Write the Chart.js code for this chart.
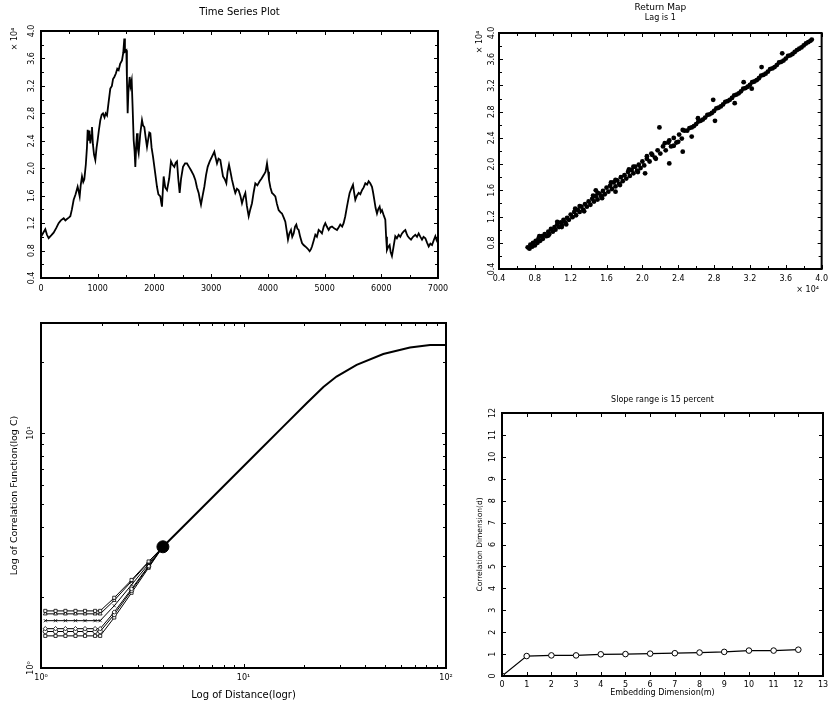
<!DOCTYPE html>
<html>
<head>
<meta charset="utf-8">
<script src="https://cdn.jsdelivr.net/npm/chart.js@4.4.1/dist/chart.umd.min.js"></script>
<style>
  html, body { margin: 0; padding: 0; background: #fff; }
  #page { position: relative; width: 833px; height: 704px; overflow: hidden; background: #fff; }
  #page canvas { position: absolute; left: 0; top: 0; }
</style>
</head>
<body>
<div id="page">
  <canvas id="tsChart" width="833" height="704"></canvas>
  <canvas id="lagChart" width="833" height="704"></canvas>
  <canvas id="corrChart" width="833" height="704"></canvas>
  <canvas id="dimChart" width="833" height="704"></canvas>
</div>
<script>
// ---------- Time series (values in units of 10^4) ----------
const tsTime = [0,40,76,105,135,180,223,270,311,350,400,430,458,490,517,545,576,610,646,665,682,700,723,745,764,790,810,823,840,855,870,885,899,915,935,958,980,999,1020,1046,1070,1093,1120,1140,1164,1190,1222,1250,1270,1293,1320,1345,1369,1395,1428,1450,1469,1480,1505,1515,1528,1540,1563,1580,1599,1615,1634,1650,1663,1680,1693,1705,1722,1750,1781,1800,1822,1845,1869,1890,1910,1928,1950,1975,2010,2045,2070,2104,2120,2133,2150,2163,2190,2222,2260,2292,2320,2351,2375,2398,2420,2445,2470,2504,2540,2574,2610,2645,2690,2721,2750,2780,2800,2821,2850,2880,2910,2939,2975,3015,3056,3080,3103,3130,3162,3185,3209,3240,3268,3290,3315,3340,3368,3400,3426,3455,3485,3515,3544,3575,3603,3630,3662,3690,3720,3750,3779,3815,3855,3890,3926,3960,3985,4005,4020,4045,4073,4100,4132,4160,4190,4220,4249,4280,4308,4330,4355,4380,4408,4430,4455,4480,4502,4520,4543,4570,4602,4630,4660,4700,4737,4760,4778,4810,4837,4865,4896,4925,4954,4985,5013,5040,5072,5100,5131,5175,5219,5250,5277,5310,5336,5365,5395,5420,5442,5470,5501,5520,5542,5570,5601,5630,5660,5690,5719,5750,5777,5805,5836,5855,5877,5900,5924,5945,5971,5990,6012,6040,6071,6085,6100,6120,6147,6165,6188,6215,6247,6275,6306,6335,6365,6395,6424,6445,6465,6495,6524,6560,6600,6630,6659,6690,6718,6745,6777,6805,6836,6865,6895,6925,6953,6975,7000];
const tsValue = [1.00,1.06,1.11,1.03,0.98,1.02,1.06,1.13,1.20,1.24,1.27,1.24,1.26,1.28,1.30,1.40,1.54,1.62,1.73,1.66,1.59,1.75,1.88,1.80,1.84,2.05,2.30,2.56,2.40,2.55,2.36,2.48,2.60,2.35,2.20,2.12,2.30,2.41,2.55,2.70,2.78,2.80,2.74,2.80,2.77,2.95,3.16,3.20,3.30,3.33,3.38,3.45,3.43,3.52,3.57,3.68,3.89,3.70,3.72,3.30,2.80,3.10,3.33,3.20,3.28,2.90,2.41,2.25,2.02,2.35,2.51,2.30,2.22,2.50,2.70,2.62,2.60,2.45,2.31,2.42,2.52,2.51,2.30,2.17,1.95,1.73,1.62,1.59,1.50,1.44,1.70,1.88,1.72,1.68,1.85,2.10,2.05,2.02,2.08,2.10,1.85,1.64,1.85,2.02,2.07,2.07,2.02,1.97,1.90,1.83,1.72,1.64,1.55,1.47,1.60,1.73,1.90,2.02,2.10,2.17,2.24,2.15,2.07,2.14,2.12,2.00,1.88,1.84,1.78,1.95,2.05,1.95,1.83,1.72,1.64,1.70,1.68,1.60,1.49,1.58,1.64,1.45,1.30,1.40,1.49,1.65,1.78,1.75,1.81,1.85,1.90,1.95,2.07,1.95,1.83,1.72,1.64,1.62,1.59,1.48,1.39,1.36,1.34,1.28,1.22,1.10,0.96,1.05,1.10,1.00,1.05,1.15,1.18,1.12,1.10,1.00,0.91,0.88,0.86,0.83,0.79,0.82,0.86,0.95,1.03,1.00,1.10,1.08,1.05,1.15,1.20,1.15,1.10,1.14,1.15,1.12,1.10,1.14,1.18,1.15,1.20,1.30,1.44,1.55,1.64,1.70,1.76,1.65,1.54,1.60,1.64,1.62,1.68,1.72,1.78,1.76,1.81,1.78,1.73,1.65,1.54,1.42,1.34,1.40,1.44,1.36,1.39,1.32,1.25,1.00,0.81,0.85,0.88,0.78,0.72,0.85,1.01,0.98,1.03,1.00,1.05,1.08,1.10,1.05,1.01,0.98,0.96,1.00,1.03,1.00,1.05,1.00,0.96,1.00,0.98,0.92,0.86,0.90,0.88,0.95,1.01,0.95,0.91];
const tsXTicks = [0,1000,2000,3000,4000,5000,6000,7000];
const tsXMinor = [500,1500,2500,3500,4500,5500,6500];
const tsYTicks = [0.4,0.8,1.2,1.6,2.0,2.4,2.8,3.2,3.6,4.0];
const tsYMinor = [0.6,1.0,1.4,1.8,2.2,2.6,3.0,3.4,3.8];

// ---------- Return map, lag 1 (x(t), x(t+1), units of 10^4) ----------
const lagPrev = [0.72,0.74,0.75,0.77,0.78,0.80,0.81,0.83,0.84,0.86,0.88,0.89,0.91,0.93,0.95,0.96,0.98,1.00,1.02,1.03,1.05,1.07,1.09,1.10,1.12,1.14,1.16,1.18,1.20,1.22,1.24,1.26,1.28,1.30,1.32,1.34,1.36,1.38,1.40,1.42,1.44,1.46,1.48,1.50,1.52,1.54,1.56,1.58,1.60,1.62,1.64,1.66,1.68,1.70,1.72,1.74,1.76,1.78,1.80,1.82,1.84,1.86,1.88,1.90,1.92,1.94,1.96,1.98,2.00,2.02,2.05,2.08,2.11,2.14,2.17,2.20,2.23,2.26,2.29,2.32,2.35,2.38,2.41,2.44,2.47,
  2.500,2.525,2.550,2.575,2.600,2.625,2.650,2.675,2.700,2.725,2.750,2.775,2.800,2.825,2.850,2.875,2.900,2.925,2.950,2.975,3.000,3.025,3.050,3.075,3.100,3.125,3.150,3.175,3.200,3.225,3.250,3.275,3.300,3.325,3.350,3.375,3.400,3.425,3.450,3.475,3.500,3.525,3.550,3.575,3.600,3.625,3.650,3.675,3.700,3.725,3.750,3.775,3.800,3.825,3.850,3.875,3.890,
  0.85,0.95,1.05,1.10,1.15,1.25,1.30,1.35,1.45,1.50,1.55,1.65,1.70,1.75,1.85,1.90,1.95,2.05,2.10,2.15,2.25,2.30,2.35,2.40,2.45,
  2.19,2.30,2.45,2.03,2.81,2.79,3.13,3.33,3.56,3.03,2.62,1.48,1.70,2.55,3.22];
const lagNext = [0.73,0.71,0.77,0.74,0.80,0.76,0.83,0.80,0.86,0.83,0.90,0.86,0.93,0.90,0.97,0.93,1.01,0.97,1.04,1.00,1.08,1.04,1.11,1.07,1.15,1.11,1.18,1.15,1.23,1.19,1.27,1.22,1.30,1.27,1.35,1.30,1.39,1.35,1.43,1.38,1.47,1.43,1.51,1.46,1.55,1.51,1.59,1.54,1.64,1.58,1.67,1.62,1.72,1.66,1.75,1.70,1.80,1.74,1.83,1.78,1.88,1.82,1.91,1.86,1.96,1.90,1.99,1.94,2.04,1.98,2.08,2.04,2.14,2.10,2.21,2.16,2.27,2.21,2.33,2.27,2.40,2.33,2.45,2.39,2.51,
  2.51,2.55,2.56,2.58,2.61,2.65,2.66,2.68,2.71,2.75,2.76,2.78,2.81,2.85,2.86,2.88,2.91,2.95,2.96,2.98,3.01,3.05,3.06,3.08,3.11,3.15,3.16,3.18,3.21,3.25,3.26,3.28,3.31,3.35,3.36,3.38,3.41,3.45,3.46,3.48,3.51,3.55,3.56,3.58,3.61,3.65,3.66,3.68,3.71,3.74,3.76,3.78,3.81,3.84,3.86,3.88,3.90,
  0.90,0.91,1.12,1.04,1.08,1.32,1.36,1.28,1.52,1.56,1.48,1.72,1.76,1.68,1.92,1.96,1.88,2.12,2.16,2.08,2.32,2.36,2.28,2.34,2.52,
  2.56,2.01,2.19,1.86,2.66,2.98,3.25,3.48,3.69,2.93,2.70,1.60,1.58,2.42,3.15];
const lagTicks = [0.4,0.8,1.2,1.6,2.0,2.4,2.8,3.2,3.6,4.0];
const lagMinor = [0.6,1.0,1.4,1.8,2.2,2.6,3.0,3.4,3.8];

// ---------- Correlation integral, log C vs log r ----------
const corrR = [1.05,1.18,1.32,1.48,1.65,1.85,1.96,2.3,2.8,3.4,4.0];
const corrM1 = [1.75,1.75,1.75,1.75,1.75,1.75,1.75,1.99,2.37,2.84,3.28];
const corrM2 = [1.70,1.70,1.70,1.70,1.70,1.70,1.70,1.94,2.34,2.82,3.28];
const corrM3 = [1.59,1.59,1.59,1.59,1.59,1.59,1.59,1.84,2.26,2.77,3.28];
const corrM4 = [1.47,1.47,1.47,1.47,1.47,1.47,1.47,1.73,2.17,2.72,3.28];
const corrM5 = [1.43,1.43,1.43,1.43,1.43,1.43,1.43,1.69,2.14,2.70,3.28];
const corrM6 = [1.37,1.37,1.37,1.37,1.37,1.37,1.37,1.64,2.09,2.67,3.28];
const tailR = [4.0,5.04,6.33,8.9,12.1,15.7,20.5,24.8,28.8,36.2,49.0,66.4,83.4,100];
const tailC = [3.28,4.0,4.87,6.53,8.51,10.65,13.4,15.7,17.4,19.5,21.7,23.1,23.7,23.7];
const kneeR = [4.0];
const kneeC = [3.28];
const logXTicks = [1,10,100];
const logXMinor = [2,3,4,5,6,7,8,9,20,30,40,50,60,70,80,90];
const logYTicks = [1,10];
const logYMinor = [2,3,4,5,6,7,8,9,20];

// ---------- Correlation dimension vs embedding dimension ----------
const embedDim = [0,1,2,3,4,5,6,7,8,9,10,11,12];
const corrDim = [0,0.91,0.94,0.94,0.99,1.0,1.02,1.04,1.07,1.1,1.16,1.16,1.2];
const dimXTicks = [0,1,2,3,4,5,6,7,8,9,10,11,12,13];
const dimYTicks = [0,1,2,3,4,5,6,7,8,9,10,11,12];

const SUP = {'0':'⁰','1':'¹','2':'²'};
const pairs = (xs, ys) => xs.map((v, i) => ({x: v, y: ys[i]}));

Chart.defaults.font.family = "'DejaVu Sans', sans-serif";
Chart.defaults.color = '#000';

const AXIS_W = 24, AXIS_H = 20;

// frame, inward tick marks on all four sides, titles and notes
function panelDecor(cfg) {
  return {
    id: 'panelDecor',
    afterDatasetsDraw(chart) {
      const {ctx, chartArea: a, scales} = chart;
      const sx = scales.x, sy = scales.y;
      ctx.save();
      ctx.strokeStyle = '#000';
      ctx.lineWidth = 1;
      const drawX = (vals, len) => vals.forEach(v => {
        const p = Math.round(sx.getPixelForValue(v)) + 0.5;
        ctx.beginPath();
        ctx.moveTo(p, a.bottom); ctx.lineTo(p, a.bottom - len);
        ctx.moveTo(p, a.top); ctx.lineTo(p, a.top + len);
        ctx.stroke();
      });
      const drawY = (vals, len) => vals.forEach(v => {
        const p = Math.round(sy.getPixelForValue(v)) + 0.5;
        ctx.beginPath();
        ctx.moveTo(a.left, p); ctx.lineTo(a.left + len, p);
        ctx.moveTo(a.right, p); ctx.lineTo(a.right - len, p);
        ctx.stroke();
      });
      drawX(cfg.xMajor, 4); drawX(cfg.xMinor || [], 3);
      drawY(cfg.yMajor, 4); drawY(cfg.yMinor || [], 3);
      ctx.lineWidth = 2;
      ctx.strokeRect(a.left, a.top, a.right - a.left, a.bottom - a.top);
      ctx.fillStyle = '#000';
      cfg.texts(a).forEach(t => {
        ctx.save();
        ctx.font = (t.size || 9) + "px 'DejaVu Sans', sans-serif";
        ctx.textAlign = 'center';
        ctx.textBaseline = 'middle';
        ctx.translate(t.x, t.y);
        if (t.rot) ctx.rotate(-Math.PI / 2);
        ctx.fillText(t.text, 0, 0);
        ctx.restore();
      });
      ctx.restore();
    }
  };
}

function axisX(opts) {
  return Object.assign({
    type: 'linear',
    grid: {display: false, drawTicks: false},
    border: {display: false},
    afterFit: s => { s.height = AXIS_H; },
    afterBuildTicks: s => { s.ticks = opts.ticks.map(v => ({value: v})); },
  }, opts.scale, {ticks: Object.assign({font: {size: 8}, autoSkip: false, maxRotation: 0, minRotation: 0}, opts.tick)});
}
function axisY(opts) {
  return Object.assign({
    type: 'linear',
    grid: {display: false, drawTicks: false},
    border: {display: false},
    afterFit: s => { s.width = AXIS_W; },
    afterBuildTicks: s => { s.ticks = opts.ticks.map(v => ({value: v})); },
  }, opts.scale, {ticks: Object.assign({font: {size: 8}, autoSkip: false, minRotation: 90, maxRotation: 90, crossAlign: 'center'}, opts.tick)});
}
function pad(r) {
  return {left: r.l - AXIS_W, top: r.t, right: 833 - r.r, bottom: 704 - r.b - AXIS_H};
}
const base = (r) => ({
  responsive: false, animation: false, events: [],
  layout: {padding: pad(r)},
  plugins: {legend: {display: false}, tooltip: {enabled: false}, title: {display: false}}
});

// Time series plot
new Chart(document.getElementById('tsChart'), {
  type: 'scatter',
  data: {datasets: [{
    data: pairs(tsTime, tsValue), showLine: true, borderColor: '#000', borderWidth: 1.8,
    pointRadius: 0, tension: 0
  }]},
  options: Object.assign(base({l: 41, t: 31, r: 438, b: 278}), {
    scales: {
      x: axisX({ticks: tsXTicks, scale: {min: 0, max: 7000}, tick: {padding: 6, callback: v => String(v)}}),
      y: axisY({ticks: tsYTicks, scale: {min: 0.4, max: 4.0}, tick: {padding: 3, callback: v => v.toFixed(1)}})
    }
  }),
  plugins: [panelDecor({
    xMajor: tsXTicks, xMinor: tsXMinor, yMajor: tsYTicks, yMinor: tsYMinor,
    texts: a => [
      {text: 'Time Series Plot', x: (a.left + a.right) / 2, y: a.top - 19, size: 10},
      {text: '× 10⁴', x: 15, y: a.top + 8, size: 8, rot: true}
    ]
  })]
});

// Return map, lag 1
new Chart(document.getElementById('lagChart'), {
  type: 'scatter',
  data: {datasets: [{
    data: pairs(lagPrev, lagNext), backgroundColor: '#000', borderColor: '#000',
    pointRadius: 2.4, pointBorderWidth: 0
  }]},
  options: Object.assign(base({l: 499, t: 33, r: 822, b: 269}), {
    scales: {
      x: axisX({ticks: lagTicks, scale: {min: 0.4, max: 4.0}, tick: {padding: 5, callback: v => v.toFixed(1)}}),
      y: axisY({ticks: lagTicks, scale: {min: 0.4, max: 4.0}, tick: {padding: 1, callback: v => v.toFixed(1)}})
    }
  }),
  plugins: [panelDecor({
    xMajor: lagTicks, xMinor: lagMinor, yMajor: lagTicks, yMinor: lagMinor,
    texts: a => [
      {text: 'Return Map', x: (a.left + a.right) / 2, y: a.top - 25, size: 9},
      {text: 'Lag is 1', x: (a.left + a.right) / 2, y: a.top - 15, size: 8},
      {text: '× 10⁴', x: a.left - 19, y: a.top + 9, size: 8, rot: true},
      {text: '× 10⁴', x: a.right - 14, y: a.bottom + 21, size: 8}
    ]
  })]
});

// Correlation integral (log-log)
const lowStyles = ['rect', 'triangle', 'crossRot', 'rectRot', 'circle', 'rect'];
const lowSeries = [corrM1, corrM2, corrM3, corrM4, corrM5, corrM6];
new Chart(document.getElementById('corrChart'), {
  type: 'scatter',
  data: {datasets: lowSeries.map((s, i) => ({
      data: pairs(corrR, s), showLine: true, borderColor: '#000', borderWidth: 1,
      pointStyle: lowStyles[i], pointRadius: 2.2, pointBorderWidth: 0.8,
      pointBackgroundColor: '#fff', pointBorderColor: '#000', order: 2
    })).concat([
    {data: pairs(tailR, tailC), showLine: true, borderColor: '#000', borderWidth: 2, pointRadius: 0, order: 1},
    {data: pairs(kneeR, kneeC), backgroundColor: '#000', borderColor: '#000', pointRadius: 6, order: 0}
  ])},
  options: Object.assign(base({l: 41, t: 323, r: 446, b: 668}), {
    scales: {
      x: axisX({ticks: logXTicks, scale: {type: 'logarithmic', min: 1, max: 100},
        tick: {padding: 5, callback: v => '10' + SUP[String(Math.round(Math.log10(v)))]}}),
      y: axisY({ticks: logYTicks, scale: {type: 'logarithmic', min: 1, max: 29.4},
        tick: {padding: 3, callback: v => '10' + SUP[String(Math.round(Math.log10(v)))]}})
    }
  }),
  plugins: [panelDecor({
    xMajor: logXTicks, xMinor: logXMinor, yMajor: logYTicks, yMinor: logYMinor,
    texts: a => [
      {text: 'Log of Distance(logr)', x: (a.left + a.right) / 2, y: a.bottom + 27, size: 10},
      {text: 'Log of Correlation Function(log C)', x: 15, y: (a.top + a.bottom) / 2, size: 9.5, rot: true}
    ]
  })]
});

// Correlation dimension vs embedding dimension
new Chart(document.getElementById('dimChart'), {
  type: 'scatter',
  data: {datasets: [{
    data: pairs(embedDim, corrDim), showLine: true, borderColor: '#000', borderWidth: 1.2,
    pointStyle: 'circle', pointRadius: 2.8, pointBorderWidth: 1,
    pointBackgroundColor: '#fff', pointBorderColor: '#000'
  }]},
  options: Object.assign(base({l: 502, t: 413, r: 823, b: 676}), {
    scales: {
      x: axisX({ticks: dimXTicks, scale: {min: 0, max: 13}, tick: {padding: 4, callback: v => String(v)}}),
      y: axisY({ticks: dimYTicks, scale: {min: 0, max: 12}, tick: {padding: 4, callback: v => String(v)}})
    }
  }),
  plugins: [panelDecor({
    xMajor: dimXTicks, yMajor: dimYTicks,
    texts: a => [
      {text: 'Slope range is 15 percent', x: (a.left + a.right) / 2, y: a.top - 13, size: 8},
      {text: 'Embedding Dimension(m)', x: (a.left + a.right) / 2, y: a.bottom + 17, size: 8},
      {text: 'Correlation Dimension(d)', x: 480, y: (a.top + a.bottom) / 2, size: 7.5, rot: true}
    ]
  })]
});
</script>
</body>
</html>
